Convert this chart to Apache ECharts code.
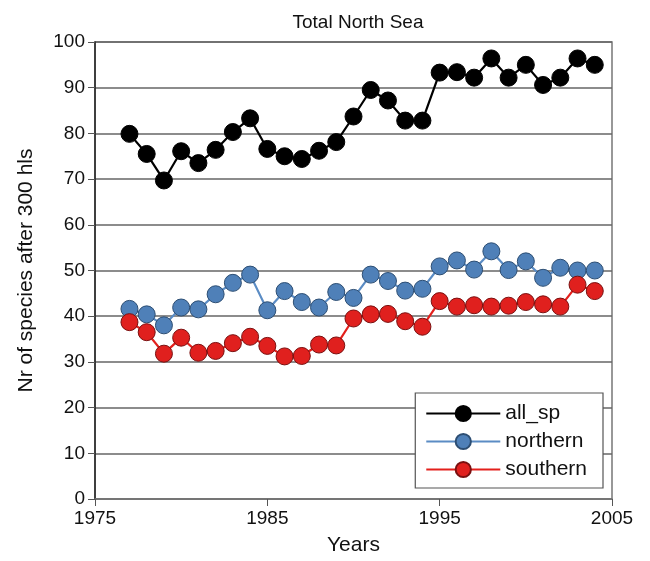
<!DOCTYPE html>
<html>
<head>
<meta charset="utf-8">
<script src="https://cdn.jsdelivr.net/npm/echarts@6/dist/echarts.min.js"></script>
<style>
  html, body { margin: 0; padding: 0; background: #fff; }
  #main { width: 650px; height: 561px; }
</style>
</head>
<body>
<div id="main"></div>
<script>
// years and species counts
var years = [1977, 1978, 1979, 1980, 1981, 1982, 1983, 1984, 1985, 1986, 1987, 1988, 1989, 1990,
  1991, 1992, 1993, 1994, 1995, 1996, 1997, 1998, 1999, 2000, 2001, 2002, 2003, 2004]
var allSp = [79.9, 75.5, 69.7, 76.1, 73.5, 76.4, 80.3, 83.3, 76.6, 75.0, 74.4, 76.2, 78.1, 83.7,
  89.5, 87.2, 82.8, 82.8, 93.3, 93.4, 92.2, 96.4, 92.2, 95.0, 90.6, 92.2, 96.4, 95.0]
var northern = [41.6, 40.4, 38.0, 41.9, 41.5, 44.8, 47.3, 49.1, 41.3, 45.5, 43.1, 41.9, 45.3, 44.0,
  49.1, 47.7, 45.6, 46.0, 50.9, 52.2, 50.2, 54.2, 50.1, 52.0, 48.4, 50.6, 50.0, 50.0]
var southern = [38.7, 36.5, 31.8, 35.3, 32.0, 32.4, 34.1, 35.5, 33.5, 31.2, 31.3, 33.8, 33.6, 39.5,
  40.4, 40.5, 38.9, 37.7, 43.3, 42.1, 42.4, 42.1, 42.3, 43.1, 42.6, 42.1, 46.9, 45.5]
var xTicks = [1975, 1985, 1995, 2005]

function pairs(vals) {
  return years.map(function (y, i) { return [y, vals[i]] })
}

var font = 'Liberation Sans, Arial, sans-serif'

function lineSeries(name, vals, lineColor, fill, border) {
  return {
    name: name,
    type: 'line',
    data: pairs(vals),
    symbol: 'circle',
    symbolSize: 17,
    lineStyle: { color: lineColor, width: 2.2 },
    itemStyle: { color: fill, borderColor: border, borderWidth: 1 },
    emphasis: { disabled: true },
    z: 3
  }
}

var myChart = echarts.init(document.getElementById('main'))
myChart.setOption({
  animation: false,
  backgroundColor: '#fff',
  textStyle: { fontFamily: font },
  title: {
    text: 'Total North Sea',
    left: 353,
    top: 8,
    textAlign: 'center',
    textStyle: { fontFamily: font, fontSize: 19, fontWeight: 'normal', color: '#111' }
  },
  grid: {
    left: 95, right: 38, top: 42, bottom: 61,
    show: true, borderColor: '#777', borderWidth: 1.5, backgroundColor: 'transparent'
  },
  legend: {
    orient: 'vertical',
    right: 47,
    bottom: 73,
    padding: [10, 16, 8, 10],
    itemGap: 7,
    itemWidth: 74,
    itemHeight: 19,
    borderColor: '#555',
    borderWidth: 1.2,
    backgroundColor: '#fff',
    textStyle: { fontFamily: font, fontSize: 21, color: '#111' },
    data: ['all_sp', 'northern', 'southern']
  },
  xAxis: {
    type: 'value',
    min: 1975, max: 2005, interval: 10,
    name: 'Years',
    nameLocation: 'middle',
    nameGap: 36,
    nameTextStyle: { fontSize: 21, color: '#111' },
    axisLine: { show: true, lineStyle: { color: '#777', width: 1.5 } },
    axisTick: { show: true, length: 7, lineStyle: { color: '#555' } },
    axisLabel: {
      fontSize: 19, color: '#111', margin: 10,
      formatter: function (v) { return xTicks.indexOf(v) >= 0 ? String(v) : '' }
    },
    splitLine: { show: false }
  },
  yAxis: {
    type: 'value',
    min: 0, max: 100, interval: 10,
    name: 'Nr of species after 300 hls',
    nameLocation: 'middle',
    nameGap: 58,
    nameTextStyle: { fontSize: 21, color: '#111' },
    axisLine: { show: true, lineStyle: { color: '#222', width: 1.5 } },
    axisTick: { show: true, inside: false, length: 7, lineStyle: { color: '#555' } },
    axisLabel: { fontSize: 19, color: '#111', margin: 10 },
    splitLine: { show: true, lineStyle: { color: '#666', width: 1.5 } }
  },
  series: [
    lineSeries('all_sp', allSp, '#000', '#000', '#000'),
    lineSeries('northern', northern, '#5b8cc4', '#4f80b8', '#2d4e73'),
    lineSeries('southern', southern, '#e3201c', '#e0201e', '#7a1010')
  ]
})
</script>
</body>
</html>
